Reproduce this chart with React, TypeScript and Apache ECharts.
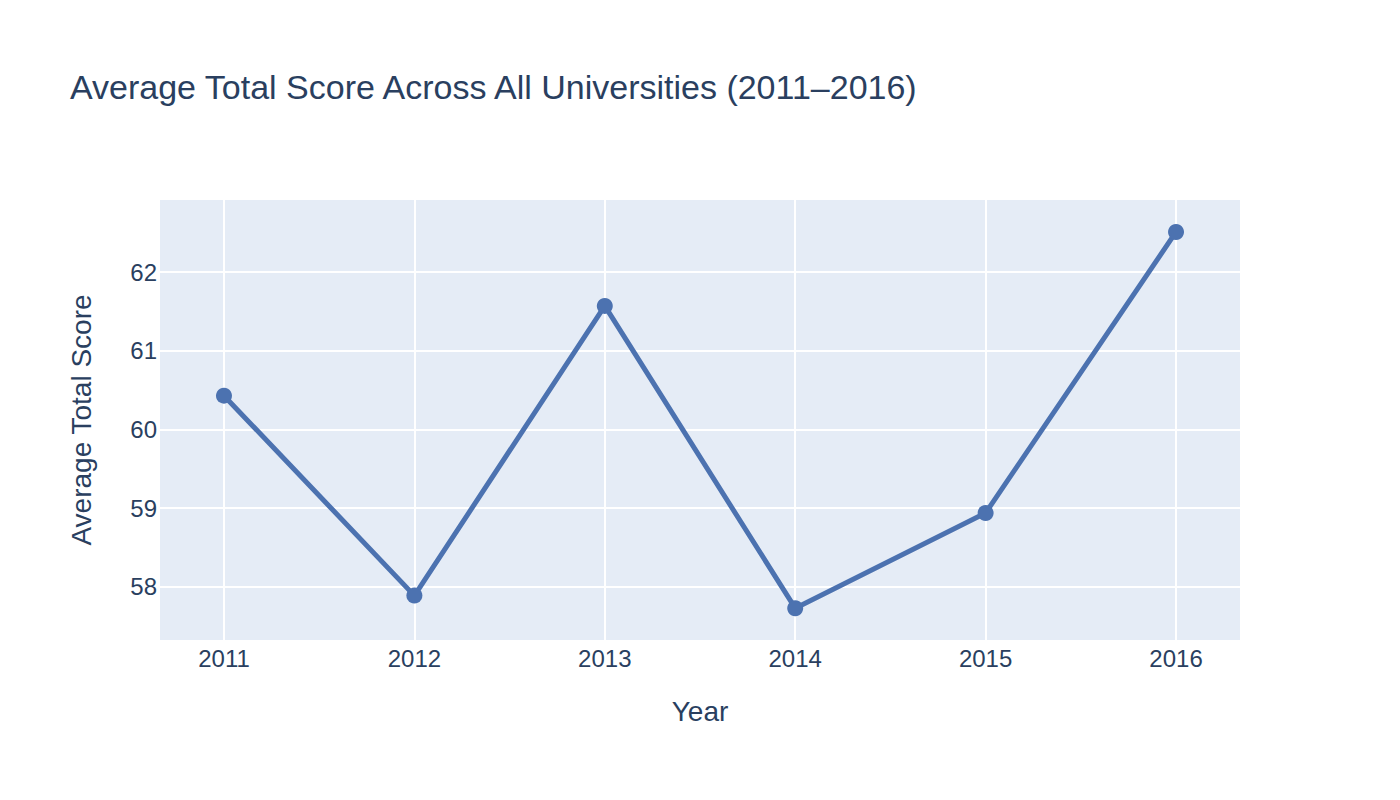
import React, { useEffect, useRef } from "react";
import * as echarts from "echarts";

const years = [2011, 2012, 2013, 2014, 2015, 2016];
const avgScores = [60.43, 57.89, 61.57, 57.73, 58.94, 62.51];
const titleText = "Average Total Score Across All Universities (2011–2016)";
const xName = "Year";
const yName = "Average Total Score";

const TEXT = "#2a3f5f";
const FONT = "'Liberation Sans', Arial, sans-serif";

export default function App() {
  const ref = useRef<HTMLDivElement>(null);
  useEffect(() => {
    document.body.style.margin = "0";
    const chart = echarts.init(ref.current!, null, { renderer: "svg" });
    chart.setOption({
      animation: false,
      backgroundColor: "#ffffff",
      title: {
        text: titleText,
        left: 65,
        top: 65,
        textStyle: { color: TEXT, fontSize: 34, fontWeight: "normal", fontFamily: FONT },
      },
      grid: {
        left: 160,
        right: 160,
        top: 200,
        bottom: 160,
        show: true,
        backgroundColor: "#E5ECF6",
        borderWidth: 0,
        containLabel: false,
      },
      xAxis: {
        type: "value",
        min: 2010.664,
        max: 2016.336,
        minInterval: 1,
        maxInterval: 1,
        name: xName,
        nameLocation: "middle",
        nameGap: 57,
        nameTextStyle: { color: TEXT, fontSize: 28, fontFamily: FONT },
        axisLine: { show: false },
        axisTick: { show: false },
        axisLabel: {
          color: TEXT,
          fontSize: 24,
          fontFamily: FONT,
          margin: 6,
          showMinLabel: false,
          showMaxLabel: false,
          formatter: (v: number) => String(Math.round(v)),
        },
        splitLine: { show: true, showMinLine: false, showMaxLine: false, lineStyle: { color: "#ffffff", width: 2 } },
      },
      yAxis: {
        type: "value",
        min: 57.326,
        max: 62.916,
        minInterval: 1,
        maxInterval: 1,
        name: yName,
        nameLocation: "middle",
        nameGap: 65,
        nameRotate: 90,
        nameTextStyle: { color: TEXT, fontSize: 28, fontFamily: FONT },
        axisLine: { show: false },
        axisTick: { show: false },
        axisLabel: {
          color: TEXT,
          fontSize: 24,
          fontFamily: FONT,
          margin: 3,
          showMinLabel: false,
          showMaxLabel: false,
          formatter: (v: number) => String(Math.round(v)),
        },
        splitLine: { show: true, showMinLine: false, showMaxLine: false, lineStyle: { color: "#ffffff", width: 2 } },
      },
      series: [
        {
          type: "line",
          data: years.map((y, i) => [y, avgScores[i]]),
          symbol: "circle",
          symbolSize: 16,
          lineStyle: { color: "#4C72B0", width: 5 },
          itemStyle: { color: "#4C72B0" },
        },
      ],
    });
    return () => chart.dispose();
  }, []);
  return <div ref={ref} style={{ position: "fixed", left: 0, top: 0, width: 1400, height: 800 }} />;
}
